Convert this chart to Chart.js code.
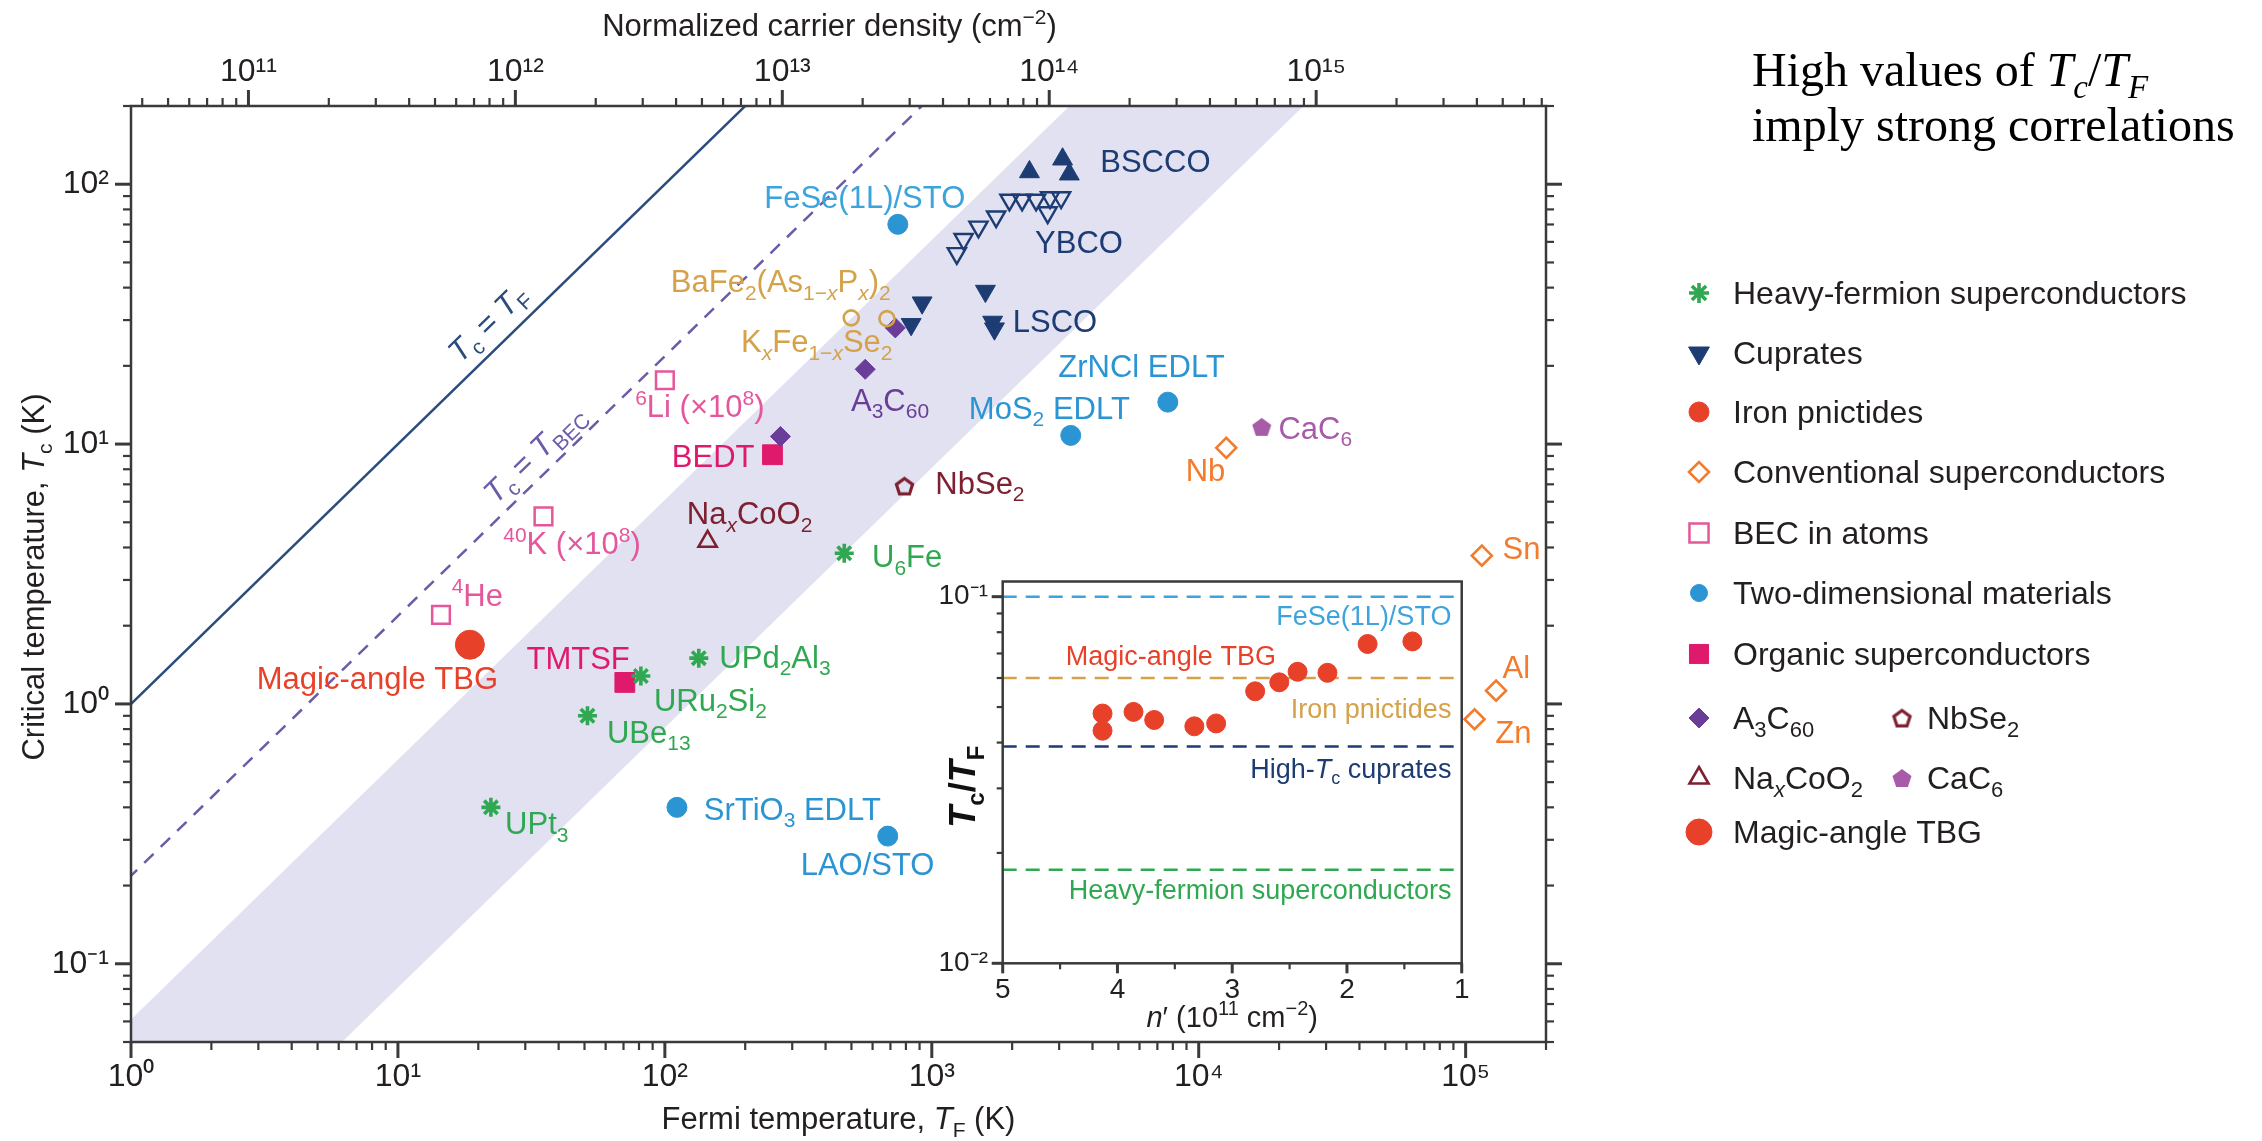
<!DOCTYPE html>
<html>
<head>
<meta charset="utf-8">
<script src="https://cdn.jsdelivr.net/npm/chart.js@4.4.1/dist/chart.umd.min.js"></script>
<style>
html, body { margin: 0; padding: 0; background: #fff; }
#wrap { position: relative; width: 2262px; height: 1141px; }
#main { position: absolute; left: 0; top: 0; }
#inset { position: absolute; left: 900px; top: 550px; }
</style>
</head>
<body>
<div id="wrap">
  <canvas id="main" width="2262" height="1141"></canvas>
  <canvas id="inset" width="580" height="490"></canvas>
</div>
<script>
var SANS = "'Liberation Sans', Arial, Helvetica, sans-serif";
var SERIF = "'Liberation Serif', 'Times New Roman', serif";

// ---- main panel: Fermi temperature T_F (K) vs critical temperature T_c (K) ----
var heavyFermionTF = [470, 134, 81.3, 51.3, 22.3];          // U6Fe, UPd2Al3, URu2Si2, UBe13, UPt3
var heavyFermionTc = [3.8, 1.5, 1.28, 0.90, 0.40];
var lscoTF = [920, 837, 1588, 1690, 1717];
var lscoTc = [35.0, 28.9, 38.8, 29.5, 27.8];
var bsccoTF = [2322, 3090, 3275];
var bsccoTc = [111.5, 124.8, 109.3];
var ybcoTF = [1241, 1316, 1496, 1742, 1954, 2180, 2459, 2718, 2773, 3050];
var ybcoTc = [54.2, 61.4, 68.5, 75.0, 87.0, 87.0, 87.0, 77.8, 88.9, 88.9];
var ironTF = [499, 679];                                      // BaFe2(As1-xPx)2, KxFe1-xSe2
var ironTc = [30.6, 30.4];
var a3c60TF = [271, 563, 730];
var a3c60Tc = [10.7, 19.4, 28.0];
var organicTF = [253, 70.8];                                  // BEDT, TMTSF
var organicTc = [9.1, 1.21];
var becTF = [100, 35.1, 14.5];                                // 6Li, 40K, 4He
var becTc = [17.6, 5.27, 2.2];
var twoDTF = [746, 3316, 7659, 111, 684];                     // FeSe/STO, MoS2, ZrNCl, SrTiO3, LAO/STO
var twoDTc = [70.1, 10.8, 14.5, 0.40, 0.31];
var conventionalTF = [12680, 115000, 130000, 108000];         // Nb, Sn, Al, Zn
var conventionalTc = [9.67, 3.72, 1.125, 0.873];
var nbse2TF = [790], nbse2Tc = [6.9];
var naxcoo2TF = [144.6], naxcoo2Tc = [4.22];
var cac6TF = [17220], cac6Tc = [11.65];
var tbgTF = [18.6], tbgTc = [1.69];

// Tc/TF ratios for the guide lines and the shaded band
var ratioTF = 1, ratioBEC = 0.218, bandHigh = 0.061, bandLow = 0.0081;
var nPerTF = Math.pow(10, 10.56);   // carrier density per kelvin of T_F (top axis)

// ---- inset: n' (1e11 cm^-2) vs Tc/TF ----
var insetN = [4.13, 4.13, 3.86, 3.68, 3.33, 3.14, 2.80, 2.59, 2.43, 2.17, 1.82, 1.43];
var insetRatio = [0.048, 0.0431, 0.0485, 0.0461, 0.0443, 0.0451, 0.0552, 0.0584, 0.0624, 0.0620, 0.0743, 0.0755];
var refNames = ['FeSe(1L)/STO', 'Iron pnictides', 'High-~T~_c cuprates', 'Heavy-fermion superconductors'];
var refRatio = [0.1, 0.06, 0.039, 0.018];

var C = {
  navy: '#1d3c73', blue: '#2b95d3', lblue: '#3ca3dc', tan: '#d5a24a', pink: '#e4579b',
  magenta: '#df1a6c', purple: '#6a3e98', maroon: '#7d2131', green: '#2fa851',
  orange: '#f27b2c', red: '#e8412a', cac6: '#a75ba9', band: '#e1e1f1',
  tcLine: '#2b4c7c', becLine: '#6b5ba9', text: '#231f20', frame: '#3a3a3a'
};
var NONE = 'rgba(0,0,0,0)';

Chart.defaults.font.family = SANS;
Chart.defaults.color = C.text;

// ---------- helpers ----------
function pentagon(r, fill, stroke, lw) {
  var s = Math.ceil(2 * r + lw + 4);
  var c = document.createElement('canvas');
  c.width = s; c.height = s;
  var g = c.getContext('2d');
  g.beginPath();
  for (var k = 0; k < 5; k++) {
    var an = -Math.PI / 2 + k * 2 * Math.PI / 5;
    var px = s / 2 + r * Math.cos(an), py = s / 2 + 1 + r * Math.sin(an);
    if (k === 0) g.moveTo(px, py); else g.lineTo(px, py);
  }
  g.closePath();
  if (fill) { g.fillStyle = fill; g.fill(); }
  if (stroke) { g.strokeStyle = stroke; g.lineWidth = lw; g.stroke(); }
  return c;
}

var mk = {
  heavy:   { pointStyle: 'star', radius: 9.5, rotation: 0, bg: C.green, bd: C.green, bw: 3.6 },
  lsco:    { pointStyle: 'triangle', radius: 11.5, rotation: 180, bg: C.navy, bd: C.navy, bw: 1 },
  bscco:   { pointStyle: 'triangle', radius: 11.5, rotation: 0, bg: C.navy, bd: C.navy, bw: 1 },
  ybco:    { pointStyle: 'triangle', radius: 10.5, rotation: 180, bg: NONE, bd: C.navy, bw: 2.4 },
  iron:    { pointStyle: 'circle', radius: 7.5, rotation: 0, bg: NONE, bd: C.tan, bw: 2.6 },
  a3c60:   { pointStyle: 'rectRot', radius: 10, rotation: 0, bg: C.purple, bd: C.purple, bw: 1 },
  organic: { pointStyle: 'rect', radius: 14, rotation: 0, bg: C.magenta, bd: C.magenta, bw: 1 },
  bec:     { pointStyle: 'rect', radius: 12.5, rotation: 0, bg: NONE, bd: C.pink, bw: 2.5 },
  twoD:    { pointStyle: 'circle', radius: 10, rotation: 0, bg: C.blue, bd: C.blue, bw: 1 },
  conv:    { pointStyle: 'rectRot', radius: 10, rotation: 0, bg: NONE, bd: C.orange, bw: 2.6 },
  nbse2:   { pointStyle: pentagon(8.5, null, C.maroon, 3.2), radius: 9, rotation: 0, bg: NONE, bd: C.maroon, bw: 0 },
  naxcoo2: { pointStyle: 'triangle', radius: 10.5, rotation: 0, bg: NONE, bd: C.maroon, bw: 2.6 },
  cac6:    { pointStyle: pentagon(10, C.cac6, null, 0), radius: 9, rotation: 0, bg: C.cac6, bd: C.cac6, bw: 0 },
  tbg:     { pointStyle: 'circle', radius: 14.5, rotation: 0, bg: C.red, bd: C.red, bw: 1 },
  pnictide:{ pointStyle: 'circle', radius: 10, rotation: 0, bg: C.red, bd: C.red, bw: 1 }
};

function pts(xs, ys) { return xs.map(function (x, i) { return { x: x, y: ys[i] }; }); }
function ratioLine(r) { return [{ x: 0.1, y: 0.1 * r }, { x: 1e7, y: 1e7 * r }]; }
function ds(label, xs, ys, m) {
  return { label: label, data: pts(xs, ys), pointStyle: m.pointStyle, pointRadius: m.radius,
           pointRotation: m.rotation, backgroundColor: m.bg, borderColor: m.bd, borderWidth: m.bw, order: 0 };
}

function logTickValues(min, max) {
  var out = [];
  for (var e = Math.floor(Math.log10(min)); e <= Math.ceil(Math.log10(max)); e++) {
    for (var k = 1; k <= 9; k++) {
      var v = k * Math.pow(10, e);
      if (v >= min * 0.9999 && v <= max * 1.0001) out.push(v);
    }
  }
  return out;
}
function isDecade(v) { var e = Math.log10(v); return Math.abs(e - Math.round(e)) < 1e-6; }
function decadeTicks(scale) {
  scale.ticks = logTickValues(scale.min, scale.max).filter(isDecade).map(function (v) { return { value: v }; });
}
var SUP = { '0': '⁰', '1': '¹', '2': '²', '3': '³', '4': '⁴', '5': '⁵', '6': '⁶', '7': '⁷', '8': '⁸', '9': '⁹', '-': '⁻' };
function powLabel(v) {
  if (!isDecade(v)) return '';
  return '10' + String(Math.round(Math.log10(v))).split('').map(function (ch) { return SUP[ch]; }).join('');
}

// tiny rich-text: _x or _{..} subscript, ^x or ^{..} superscript, ~ toggles italic
function parseRich(s) {
  var runs = [], it = false, i = 0, buf = '';
  function flush() { if (buf) runs.push({ t: buf, it: it, mode: 'n' }); buf = ''; }
  while (i < s.length) {
    var c = s[i];
    if (c === '~') { flush(); it = !it; i++; }
    else if (c === '_' || c === '^') {
      flush();
      var mode = c === '_' ? 'sub' : 'sup', t;
      i++;
      if (s[i] === '{') { var j = s.indexOf('}', i); t = s.slice(i + 1, j); i = j + 1; }
      else { t = s[i]; i++; }
      var sit = it;
      t.split('~').forEach(function (part, k) {
        if (k > 0) sit = !sit;
        if (part) runs.push({ t: part, it: sit, mode: mode });
      });
    } else { buf += c; i++; }
  }
  flush();
  return runs;
}
function drawRich(ctx, markup, x, y, o) {
  var size = o.size, fam = o.family || SANS, wt = o.weight || 'normal';
  var runs = parseRich(markup), total = 0;
  function fontOf(r) { return (r.it ? 'italic ' : '') + wt + ' ' + (r.mode === 'n' ? size : Math.round(size * 0.68)) + 'px ' + fam; }
  runs.forEach(function (r) { ctx.font = fontOf(r); r.w = ctx.measureText(r.t).width; total += r.w; });
  var cx = x;
  if (o.align === 'center') cx = x - total / 2; else if (o.align === 'right') cx = x - total;
  ctx.fillStyle = o.color || C.text;
  ctx.textAlign = 'left'; ctx.textBaseline = 'alphabetic';
  runs.forEach(function (r) {
    ctx.font = fontOf(r);
    var dy = r.mode === 'sub' ? size * 0.24 : (r.mode === 'sup' ? -size * 0.4 : 0);
    ctx.fillText(r.t, cx, y + dy);
    cx += r.w;
  });
}
function mark(ctx, x1, y1, x2, y2, major) {
  ctx.lineWidth = major ? 3 : 2.2;
  ctx.beginPath(); ctx.moveTo(x1, y1); ctx.lineTo(x2, y2); ctx.stroke();
}
function drawMarker(ctx, m, x, y, radius) {
  ctx.save();
  ctx.fillStyle = m.bg; ctx.strokeStyle = m.bd; ctx.lineWidth = m.bw;
  if (Chart.helpers && Chart.helpers.drawPoint) {
    Chart.helpers.drawPoint(ctx, { pointStyle: m.pointStyle, radius: radius || m.radius, rotation: m.rotation, borderWidth: m.bw }, x, y);
  } else {
    ctx.beginPath(); ctx.arc(x, y, radius || m.radius, 0, 2 * Math.PI); ctx.fill();
  }
  ctx.restore();
}

// text labels placed in data coordinates (left edge, cap centre)
var labelText = ['BSCCO', 'YBCO', 'LSCO', 'FeSe(1L)/STO', 'BaFe_2(As_{1−~x~}P_{~x~})_2', 'K_{~x~}Fe_{1−~x~}Se_2',
  'A_3C_{60}', '^6Li (×10^8)', 'BEDT', 'Na_{~x~}CoO_2', '^{40}K (×10^8)', 'NbSe_2', 'U_6Fe', '^4He',
  'Magic-angle TBG', 'TMTSF', 'UPd_2Al_3', 'URu_2Si_2', 'UBe_{13}', 'UPt_3', 'SrTiO_3 EDLT', 'LAO/STO',
  'ZrNCl EDLT', 'MoS_2 EDLT', 'CaC_6', 'Nb', 'Sn', 'Al', 'Zn'];
var labelTF = [4277, 2438, 2010, 235.7, 105.3, 193, 498, 77.4, 106.2, 120.8, 24.8, 1031, 597, 15.9,
  2.96, 30.3, 160, 91, 60.7, 25.2, 140, 322.6, 2978, 1377, 19890, 8933, 137400, 137400, 129100];
var labelTc = [122.7, 60.1, 29.7, 89.4, 42.4, 24.9, 14.85, 14.0, 8.97, 5.43, 4.16, 7.09, 3.70, 2.63,
  1.256, 1.50, 1.52, 1.036, 0.782, 0.347, 0.396, 0.243, 19.95, 13.79, 11.55, 7.97, 3.98, 1.392, 0.782];
var labelColor = [C.navy, C.navy, C.navy, C.lblue, C.tan, C.tan, C.purple, C.pink, C.magenta, C.maroon,
  C.pink, C.maroon, C.green, C.pink, C.red, C.magenta, C.green, C.green, C.green, C.green, C.blue,
  C.blue, C.blue, C.blue, C.cac6, C.orange, C.orange, C.orange, C.orange];

var lineLabels = [
  { t: '~T~_c = ~T~_F', tf: 21.56, tc: 29.4, color: C.tcLine },
  { t: '~T~_c = ~T~_{BEC}', tf: 32.2, tc: 9.25, color: C.becLine }
];

var legendRows = [
  { t: 'Heavy-fermion superconductors', m: mk.heavy, r: 10, col: 0, y: 293 },
  { t: 'Cuprates', m: mk.lsco, r: 12, col: 0, y: 353 },
  { t: 'Iron pnictides', m: mk.pnictide, r: 10, col: 0, y: 412 },
  { t: 'Conventional superconductors', m: mk.conv, r: 10, col: 0, y: 472 },
  { t: 'BEC in atoms', m: mk.bec, r: 13.5, col: 0, y: 533 },
  { t: 'Two-dimensional materials', m: mk.twoD, r: 8.5, col: 0, y: 593 },
  { t: 'Organic superconductors', m: mk.organic, r: 13.5, col: 0, y: 654 },
  { t: 'A_3C_{60}', m: mk.a3c60, r: 10, col: 0, y: 718 },
  { t: 'NbSe_2', m: mk.nbse2, r: 9, col: 1, y: 718 },
  { t: 'Na_{~x~}CoO_2', m: mk.naxcoo2, r: 11, col: 0, y: 778 },
  { t: 'CaC_6', m: mk.cac6, r: 9, col: 1, y: 778 },
  { t: 'Magic-angle TBG', m: mk.tbg, r: 13, col: 0, y: 832 }
];

var mainDecor = {
  id: 'mainDecor',
  afterDraw: function (chart) {
    var ctx = chart.ctx, a = chart.chartArea;
    var sx = chart.scales.x, sy = chart.scales.y, st = chart.scales.x2;
    ctx.save();
    ctx.strokeStyle = C.frame; ctx.lineCap = 'butt';
    logTickValues(sx.min, sx.max).forEach(function (v) {
      var p = sx.getPixelForValue(v), M = isDecade(v);
      mark(ctx, p, a.bottom, p, a.bottom + (M ? 16 : 8), M);
    });
    logTickValues(st.min, st.max).forEach(function (v) {
      var p = st.getPixelForValue(v), M = isDecade(v);
      mark(ctx, p, a.top, p, a.top - (M ? 16 : 8), M);
    });
    logTickValues(sy.min, sy.max).forEach(function (v) {
      var p = sy.getPixelForValue(v), M = isDecade(v);
      mark(ctx, a.left, p, a.left - (M ? 16 : 8), p, M);
      mark(ctx, a.right, p, a.right + (M ? 16 : 8), p, M);
    });
    ctx.lineWidth = 2.5;
    ctx.strokeRect(a.left, a.top, a.right - a.left, a.bottom - a.top);

    // point labels
    var fs = 31;
    labelText.forEach(function (t, i) {
      drawRich(ctx, t, sx.getPixelForValue(labelTF[i]), sy.getPixelForValue(labelTc[i]) + 0.358 * fs,
               { size: fs, color: labelColor[i] });
    });
    // labels along the Tc = const*TF lines
    var ang = Math.atan2(sy.getPixelForValue(10) - sy.getPixelForValue(1), sx.getPixelForValue(10) - sx.getPixelForValue(1));
    lineLabels.forEach(function (L) {
      ctx.save();
      ctx.translate(sx.getPixelForValue(L.tf), sy.getPixelForValue(L.tc));
      ctx.rotate(ang);
      drawRich(ctx, L.t, 0, 0.358 * fs, { size: fs, color: L.color, align: 'center' });
      ctx.restore();
    });

    // axis titles
    var midX = (a.left + a.right) / 2;
    drawRich(ctx, 'Fermi temperature, ~T~_F (K)', midX, 1118 + 0.358 * fs, { size: fs, align: 'center' });
    drawRich(ctx, 'Normalized carrier density (cm^{−2})', midX - 9, 25 + 0.358 * fs, { size: fs, align: 'center' });
    ctx.save();
    ctx.translate(33, (a.top + a.bottom) / 2 + 3);
    ctx.rotate(-Math.PI / 2);
    drawRich(ctx, 'Critical temperature, ~T~_c (K)', 0, 0.358 * fs, { size: fs, align: 'center' });
    ctx.restore();

    // legend
    legendRows.forEach(function (row) {
      var mx = row.col ? 1902 : 1699, tx = row.col ? 1927 : 1733;
      drawMarker(ctx, row.m, mx, row.y, row.r);
      drawRich(ctx, row.t, tx, row.y + 0.358 * 32, { size: 32 });
    });

    // note
    drawRich(ctx, 'High values of ~T~_{~c~}/~T~_{~F~}', 1752, 86, { size: 48, family: SERIF, color: '#000' });
    drawRich(ctx, 'imply strong correlations', 1752, 141, { size: 48, family: SERIF, color: '#000' });
    ctx.restore();
  }
};

var tickFont = { size: 32, family: SANS };

new Chart(document.getElementById('main'), {
  type: 'scatter',
  data: {
    datasets: [
      ds('Heavy-fermion superconductors', heavyFermionTF, heavyFermionTc, mk.heavy),
      ds('Cuprates (LSCO)', lscoTF, lscoTc, mk.lsco),
      ds('BSCCO', bsccoTF, bsccoTc, mk.bscco),
      ds('YBCO', ybcoTF, ybcoTc, mk.ybco),
      ds('Iron-based', ironTF, ironTc, mk.iron),
      ds('A3C60', a3c60TF, a3c60Tc, mk.a3c60),
      ds('Organic superconductors', organicTF, organicTc, mk.organic),
      ds('BEC in atoms', becTF, becTc, mk.bec),
      ds('Two-dimensional materials', twoDTF, twoDTc, mk.twoD),
      ds('Conventional superconductors', conventionalTF, conventionalTc, mk.conv),
      ds('NbSe2', nbse2TF, nbse2Tc, mk.nbse2),
      ds('NaxCoO2', naxcoo2TF, naxcoo2Tc, mk.naxcoo2),
      ds('CaC6', cac6TF, cac6Tc, mk.cac6),
      ds('Magic-angle TBG', tbgTF, tbgTc, mk.tbg),
      { type: 'line', label: 'Tc = TF', data: ratioLine(ratioTF), borderColor: C.tcLine, borderWidth: 2.5, pointRadius: 0, fill: false, order: 2 },
      { type: 'line', label: 'Tc = TBEC', data: ratioLine(ratioBEC), borderColor: C.becLine, borderWidth: 2.5, borderDash: [13, 10], pointRadius: 0, fill: false, order: 2 },
      { type: 'line', label: 'band high', data: ratioLine(bandHigh), borderWidth: 0, borderColor: NONE, backgroundColor: C.band, pointRadius: 0, fill: '+1', order: 3 },
      { type: 'line', label: 'band low', data: ratioLine(bandLow), borderWidth: 0, borderColor: NONE, pointRadius: 0, fill: false, order: 3 }
    ]
  },
  options: {
    responsive: false,
    animation: false,
    events: [],
    layout: { padding: { left: 0, right: 716, top: 0, bottom: 0 } },
    plugins: { legend: { display: false }, tooltip: { enabled: false } },
    scales: {
      x: {
        type: 'logarithmic', position: 'bottom', min: 1, max: 2e5,
        grid: { display: false, drawTicks: false }, border: { display: false },
        ticks: { autoSkip: false, maxRotation: 0, padding: 16, font: tickFont, color: C.text, callback: powLabel },
        afterBuildTicks: decadeTicks,
        afterFit: function (s) { s.height = 99; }
      },
      x2: {
        type: 'logarithmic', position: 'top', min: 1 * nPerTF, max: 2e5 * nPerTF,
        grid: { display: false, drawTicks: false }, border: { display: false },
        ticks: { autoSkip: false, maxRotation: 0, padding: 15, font: tickFont, color: C.text, callback: powLabel },
        afterBuildTicks: decadeTicks,
        afterFit: function (s) { s.height = 106; }
      },
      y: {
        type: 'logarithmic', position: 'left', min: 0.05, max: 200,
        grid: { display: false, drawTicks: false }, border: { display: false },
        ticks: { autoSkip: false, padding: 22, font: tickFont, color: C.text, callback: powLabel },
        afterBuildTicks: decadeTicks,
        afterFit: function (s) { s.width = 131; }
      }
    }
  },
  plugins: [mainDecor]
});

// ---------------- inset ----------------
var refColors = [C.lblue, C.tan, C.navy, C.green];
var insetLabelText = ['FeSe(1L)/STO', 'Magic-angle TBG', 'Iron pnictides', 'High-~T~_c cuprates', 'Heavy-fermion superconductors'];
var insetLabelN = [1.09, 4.45, 1.09, 1.09, 1.09];
var insetLabelR = [0.089, 0.0692, 0.0496, 0.0341, 0.01587];
var insetLabelColor = [C.lblue, C.red, C.tan, C.navy, C.green];
var insetLabelAlign = ['right', 'left', 'right', 'right', 'right'];

var insetDecor = {
  id: 'insetDecor',
  beforeDraw: function (chart) {
    var ctx = chart.ctx, a = chart.chartArea;
    ctx.save(); ctx.fillStyle = '#fff';
    ctx.fillRect(a.left, a.top, a.right - a.left, a.bottom - a.top);
    ctx.restore();
  },
  afterDraw: function (chart) {
    var ctx = chart.ctx, a = chart.chartArea, sx = chart.scales.x, sy = chart.scales.y;
    ctx.save();
    ctx.strokeStyle = C.frame;
    for (var n = 1; n <= 5.001; n += 0.5) {
      var p = sx.getPixelForValue(n), M = Math.abs(n - Math.round(n)) < 1e-6;
      mark(ctx, p, a.bottom, p, a.bottom + (M ? 10 : 6), M);
    }
    logTickValues(sy.min, 0.1).forEach(function (v) {
      var p = sy.getPixelForValue(v), M = isDecade(v);
      mark(ctx, a.left, p, a.left - (M ? 11 : 6), p, M);
    });
    ctx.lineWidth = 2.5;
    ctx.strokeRect(a.left, a.top, a.right - a.left, a.bottom - a.top);
    var fs = 27;
    insetLabelText.forEach(function (t, i) {
      drawRich(ctx, t, sx.getPixelForValue(insetLabelN[i]), sy.getPixelForValue(insetLabelR[i]) + 0.358 * fs,
               { size: fs, color: insetLabelColor[i], align: insetLabelAlign[i] });
    });
    drawRich(ctx, '~n~′ (10^{11} cm^{−2})', (a.left + a.right) / 2, 466.7 + 0.358 * 29, { size: 29, align: 'center' });
    ctx.save();
    ctx.translate(62.6, 236.7);
    ctx.rotate(-Math.PI / 2);
    drawRich(ctx, '~T~_c/~T~_F', 0, 0.358 * 36, { size: 36, align: 'center', weight: 'bold', color: '#111' });
    ctx.restore();
    ctx.restore();
  }
};

var insetSets = refRatio.map(function (r, i) {
  return { type: 'line', label: refNames[i], data: [{ x: 5, y: r }, { x: 1, y: r }], borderColor: refColors[i],
           borderWidth: 2.5, borderDash: [14, 9], pointRadius: 0, fill: false, order: 2 };
});
insetSets.push({ label: 'Magic-angle TBG', data: pts(insetN, insetRatio), pointStyle: 'circle', pointRadius: 9.5,
                 backgroundColor: C.red, borderColor: C.red, borderWidth: 1, order: 0 });

new Chart(document.getElementById('inset'), {
  type: 'scatter',
  data: { datasets: insetSets },
  options: {
    responsive: false,
    animation: false,
    events: [],
    layout: { padding: { left: 0, right: 16.7, top: 24, bottom: 0 } },
    plugins: { legend: { display: false }, tooltip: { enabled: false } },
    scales: {
      x: {
        type: 'linear', reverse: true, min: 1, max: 5,
        grid: { display: false, drawTicks: false }, border: { display: false },
        ticks: { stepSize: 1, autoSkip: false, maxRotation: 0, padding: 10.5, font: { size: 28 }, color: C.text,
                 callback: function (v) { return Number.isInteger(v) ? String(v) : ''; } },
        afterFit: function (s) { s.height = 76.7; }
      },
      y: {
        type: 'logarithmic', min: 0.01, max: 0.11,
        grid: { display: false, drawTicks: false }, border: { display: false },
        ticks: { autoSkip: false, padding: 14.7, font: { size: 28 }, color: C.text, callback: powLabel },
        afterBuildTicks: decadeTicks,
        afterFit: function (s) { s.width = 102.7; }
      }
    }
  },
  plugins: [insetDecor]
});
</script>
</body>
</html>
